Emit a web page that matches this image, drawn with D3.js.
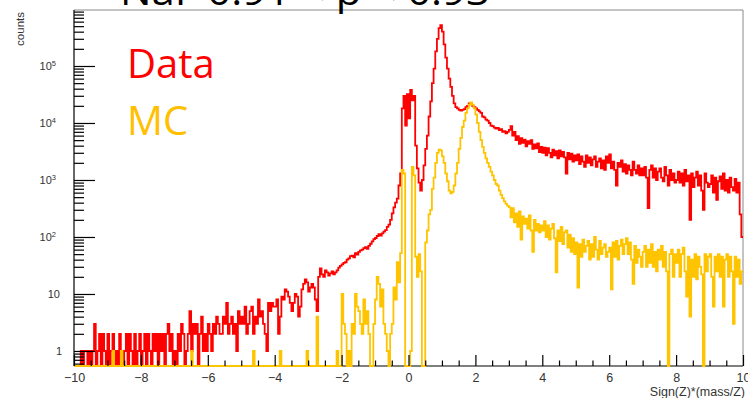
<!DOCTYPE html>
<html><head><meta charset="utf-8">
<script src="https://cdn.jsdelivr.net/npm/d3@7"></script>
<style>html,body{margin:0;padding:0;background:#fff;overflow:hidden}</style>
</head><body><svg id="c" width="748" height="398"></svg>
<script>
// ---- data ----
const titleText = "NaF 0.91 < p < 0.93";
const seriesNames = ["Data", "MC"];
const xAxisTitle = "Sign(Z)*(mass/Z)";
const yAxisTitle = "counts";
const binLow = -10, binHigh = 10;   // 400 bins of 0.05

const dataCounts = [
  0,0,0,0,1,0,1,1,0,1, 0,1,3,0,1,2,0,2,1,0,
  2,0,1,2,0,1,0,2,1,0, 1,2,0,2,1,0,2,0,1,2,
  0,1,2,0,2,1,0,2,1,2, 0,2,1,2,0,2,3,1,2,0,
  1,0,2,1,3,2,0,1,2,5, 1,3,2,3,0,2,4,1,2,1,
  3,2,1,3,2,4,3,2,2,4, 3,7,2,3,4,2,3,1,5,3,
  4,3,6,2,3,5,6,2,4,3, 8,4,5,3,2,1,7,5,7,6,
  6,8,2,4,9,8,12,11,9,7, 5,7,10,9,4,6,12,15,18,16,
  11,13,15,13,8,5,20,28,22,20, 26,24,21,23,25,22,24,26,29,31,
  33,35,36,40,42,46,47,44,52,49, 55,58,60,64,66,62,70,76,84,92,
  96,104,112,106,116,124,132,150,165,200, 260,330,400,470,800,1300,18000,30000,9000,32000,
  12000,38000,25000,30000,4000,1600,900,650,1000,1800, 3500,6000,13000,24000,50000,90000,180000,300000,460000,520000,
  400000,240000,140000,90000,60000,43000,30000,22000,19000,18000, 17000,16500,17000,17500,19000,20000,22000,22000,20000,19000,
  18000,17000,16000,15000,13000,12500,11500,11000,10000,9000, 8800,8300,8000,8200,7500,7800,7000,7200,6600,7000,
  7600,8800,6000,7000,5000,5900,4300,5400,4500,5100, 3900,4800,4300,5000,3500,4200,3600,4400,3100,3800,
  3000,3700,2700,3600,3000,2500,3400,2700,3200,2400, 3300,2600,3100,2500,1300,3000,2300,2900,2100,2700,
  2200,2800,1900,2600,2100,1700,2700,2000,2500,1800, 2300,2600,1700,2100,2400,1600,2200,1500,2600,2000,
  2800,1600,2100,1500,800,2000,1700,2200,1400,1900, 1300,1800,1500,1200,2100,1500,1300,1800,1200,1600,
  1200,1700,1100,320,1500,1800,1100,1600,1000,1400, 1600,1100,950,1700,1200,800,1500,1000,1300,900,
  1000,1400,900,1300,800,1500,950,1200,200,1300, 750,1100,1400,800,1200,650,300,1300,900,750,
  850,1200,600,1100,450,950,1150,700,1300,650, 1000,600,1100,750,650,1050,600,900,250,100
];

const mcCounts = [
  0,0,0,0,0,0,0,0,0,0, 0,0,0,0,0,0,0,0,0,0,
  0,0,0,1,0,0,0,0,1,0, 0,0,0,0,0,0,0,0,0,0,
  0,0,0,0,0,0,0,0,0,0, 0,0,0,0,0,0,0,0,0,0,
  0,0,0,0,0,0,0,0,0,0, 1,0,0,0,0,0,0,0,0,0,
  0,0,0,0,0,0,0,0,0,0, 0,0,0,0,0,0,0,0,0,0,
  0,0,0,0,0,0,0,1,0,0, 0,0,0,0,0,0,0,0,0,0,
  0,0,0,1,0,0,0,0,0,0, 0,0,0,0,0,0,0,0,0,1,
  0,0,0,0,0,4,0,0,0,0, 0,0,0,0,0,0,0,1,0,0,
  10,3,2,0,1,0,3,2,10,6, 5,3,2,8,3,5,2,0,0,3,
  8,20,15,6,12,3,2,1,0,2, 3,13,8,36,16,52,1500,1300,0,0,
  0,1,1700,1200,45,20,50,25,0,0, 80,130,250,300,700,1100,2000,3000,3400,3300,
  2600,2000,1300,950,650,580,620,800,1300,2000, 3500,5500,8500,11000,15000,18000,21000,23000,21000,18000,
  14000,10000,7000,5000,3800,3000,2400,2000,1700,1400, 1200,1000,850,800,650,550,480,420,380,350,
  330,220,320,180,260,150,280,90,230,170, 210,140,240,130,55,200,130,170,120,160,
  130,190,100,160,90,140,170,95,24,130, 85,150,75,120,130,65,110,55,95,50,
  80,13,75,45,90,55,70,85,40,75, 45,100,60,40,85,50,65,75,45,55,
  65,12,80,45,85,40,70,90,50,75, 95,50,80,40,15,70,35,60,45,30,
  55,70,30,60,35,75,30,55,25,60, 40,70,30,55,25,0,50,60,20,50,
  35,60,20,50,65,25,9,45,4,40, 20,50,18,45,30,22,0,50,25,45,
  50,20,6,45,25,50,20,45,6,40, 50,20,45,25,3,45,20,40,15,25
];

const xTickValues = [-10,-8,-6,-4,-2,0,2,4,6,8,10];
const xMinorStep = 0.5;
const yTickValues = [1,10,100,1000,10000,100000];
const yTickExponents = [0,1,2,3,4,5];

// ---- drawing ----
const svg = d3.select("#c");
const L = 74, R = 743, T = 10, B = 366;
const x = d3.scaleLinear().domain([binLow, binHigh]).range([L, R]);
const y = d3.scaleLog().domain([0.545, 9.6e5]).range([B, T]).clamp(true);
const axisFont = "'Liberation Sans', Arial, Helvetica, sans-serif";

svg.append("defs").append("clipPath").attr("id", "frame")
  .append("rect").attr("x", L).attr("y", T).attr("width", R - L).attr("height", B - T + 1.5);

// frame (top/right gray)
svg.append("path").attr("d", `M${L},${T}H${R}V${B}`).attr("fill", "none")
  .attr("stroke", "#888").attr("stroke-width", 1);
// axis lines
svg.append("line").attr("x1", L).attr("x2", R).attr("y1", B).attr("y2", B)
  .attr("stroke", "#000").attr("stroke-width", 1.2);
svg.append("line").attr("x1", L).attr("x2", L).attr("y1", T).attr("y2", B)
  .attr("stroke", "#000").attr("stroke-width", 1.2);

function stepPoints(counts) {
  const w = (binHigh - binLow) / counts.length;
  const pts = [];
  counts.forEach((c, i) => {
    const lo = binLow + i * w, hi = lo + w;
    pts.push([lo, c], [hi, c]);
  });
  return pts;
}
const line = d3.line()
  .x(d => x(d[0]))
  .y(d => d[1] > 0 ? y(d[1]) : B);

const gh = svg.append("g").attr("clip-path", "url(#frame)");
gh.append("path").datum(stepPoints(dataCounts)).attr("d", line)
  .attr("fill", "none").attr("stroke", "#ff0000").attr("stroke-width", 1.8);
gh.append("path").datum(stepPoints(mcCounts)).attr("d", line)
  .attr("fill", "none").attr("stroke", "#ffc400").attr("stroke-width", 1.8);

// x axis ticks
const xMinor = d3.range(binLow, binHigh + 1e-9, xMinorStep).filter(v => !xTickValues.includes(v));
const gxMinor = svg.append("g").attr("transform", `translate(0,${B})`)
  .call(d3.axisBottom(x).tickValues(xMinor).tickSize(-5.5).tickSizeOuter(0).tickFormat(""));
const gx = svg.append("g").attr("transform", `translate(0,${B})`)
  .call(d3.axisBottom(x).tickValues(xTickValues).tickSize(-11).tickSizeOuter(0).tickPadding(7)
    .tickFormat(d => d < 0 ? "\u2212" + Math.abs(d) : String(d)));
[gxMinor, gx].forEach(g => {
  g.select(".domain").remove();
  g.selectAll(".tick line").attr("stroke", "#000").attr("stroke-width", 1.2);
});
gx.selectAll(".tick text").attr("font-family", axisFont).attr("font-size", 12.5).attr("fill", "#333");

// y axis ticks (log)
const yMinor = [];
for (let e = -1; e <= 5; e++) {
  for (let k = 2; k <= 9; k++) {
    const v = k * Math.pow(10, e);
    if (v >= y.domain()[0] && v <= y.domain()[1]) yMinor.push(v);
  }
}
const gyMinor = svg.append("g").attr("transform", `translate(${L},0)`)
  .call(d3.axisLeft(y).tickValues(yMinor).tickSize(-10).tickSizeOuter(0).tickFormat(""));
const gy = svg.append("g").attr("transform", `translate(${L},0)`)
  .call(d3.axisLeft(y).tickValues(yTickValues).tickSize(-21).tickSizeOuter(0).tickFormat(""));
[gyMinor, gy].forEach(g => {
  g.select(".domain").remove();
  g.selectAll(".tick line").attr("stroke", "#000").attr("stroke-width", 1.2);
});

// y tick labels
yTickValues.forEach((v, i) => {
  const ex = yTickExponents[i];
  const t = svg.append("text").attr("y", y(v)).attr("dy", "0.35em")
    .attr("text-anchor", "end").attr("font-family", axisFont).attr("font-size", 11).attr("fill", "#333");
  if (ex === 0) { t.attr("x", 62).text("1"); }
  else if (ex === 1) { t.attr("x", 60).text("10"); }
  else {
    t.attr("x", 56);
    t.append("tspan").text("10");
    t.append("tspan").attr("font-size", 7.5).attr("dy", "-0.55em").text(String(ex));
  }
});

// axis titles
svg.append("text").attr("x", 745).attr("y", 396).attr("text-anchor", "end")
  .attr("font-family", axisFont).attr("font-size", 12.5).attr("fill", "#333").text(xAxisTitle);
svg.append("text").attr("transform", "translate(24,12) rotate(-90)").attr("text-anchor", "end")
  .attr("font-family", axisFont).attr("font-size", 11.5).attr("fill", "#333").text(yAxisTitle);

// title (cut at top)
svg.append("text").attr("x", 120).attr("y", 5)
  .attr("font-family", "'Open Sans', 'Liberation Sans', sans-serif").attr("font-size", 38)
  .attr("textLength", 370).attr("lengthAdjust", "spacingAndGlyphs")
  .attr("fill", "#000").text(titleText);

// legend texts
const legendColors = ["#ff0000", "#ffc000"];
const legendY = [78, 135];
seriesNames.forEach((s, i) => {
  svg.append("text").attr("x", 127).attr("y", legendY[i])
    .attr("font-family", "'Open Sans', 'Liberation Sans', sans-serif").attr("font-size", 40)
    .attr("fill", legendColors[i]).text(s);
});
</script></body></html>
